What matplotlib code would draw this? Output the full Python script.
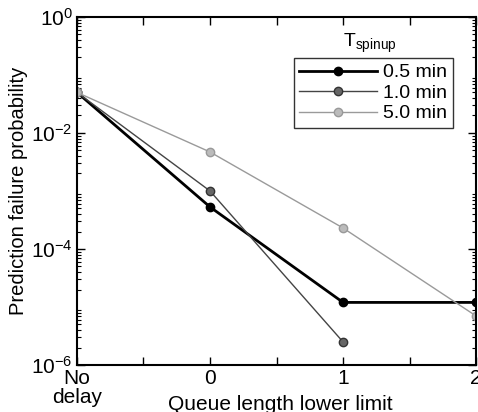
import numpy as np
import matplotlib.pyplot as plt
from matplotlib.ticker import LogLocator, NullFormatter

# x positions: -1 stands for "No delay"
x_pos = [-1, 0, 1, 2]
x_tick_pos = [-1, -0.5, 0, 0.5, 1, 1.5, 2]
x_tick_labels = ["No\ndelay", "", "0", "", "1", "", "2"]

labels = ["0.5 min", "1.0 min", "5.0 min"]
p_05 = [0.05, 5.3e-4, 1.2e-5, 1.2e-5]
p_10 = [0.05, 1.0e-3, 2.5e-6]
p_50 = [0.05, 4.7e-3, 2.3e-4, 7.0e-6]

plt.rcParams["font.family"] = ["Liberation Sans", "DejaVu Sans"]
plt.rcParams["mathtext.fontset"] = "custom"
plt.rcParams["mathtext.rm"] = "Liberation Sans"
plt.rcParams["mathtext.it"] = "Liberation Sans"

fig = plt.figure(figsize=(4.78, 4.12), dpi=100)
ax = fig.add_axes([0.161, 0.114, 0.835, 0.845])

ax.plot(x_pos, p_05, "-o", color="black", linewidth=2.0, markersize=6,
        markerfacecolor="black", markeredgecolor="black", label=labels[0])
ax.plot(x_pos[:len(p_10)], p_10, "-o", color="#444444", linewidth=1.0, markersize=6,
        markerfacecolor="#666666", markeredgecolor="#333333", label=labels[1])
ax.plot(x_pos, p_50, "-o", color="#9a9a9a", linewidth=1.0, markersize=6,
        markerfacecolor="#bbbbbb", markeredgecolor="#999999", label=labels[2])

ax.set_yscale("log")
ax.set_ylim(1e-6, 1)
ax.set_xlim(-1, 2)
ax.set_yticks([1e-6, 1e-4, 1e-2, 1])
ax.yaxis.set_minor_locator(LogLocator(base=10, subs=np.arange(2, 10), numticks=20))
ax.yaxis.set_minor_formatter(NullFormatter())
ax.set_xticks(x_tick_pos)
ax.set_xticklabels(x_tick_labels, linespacing=1.0)

ax.tick_params(which="both", direction="in", top=True, right=True, labelsize=15)
ax.tick_params(which="major", length=6, width=1, pad=3)
ax.tick_params(which="minor", length=3, width=0.8)
for s in ax.spines.values():
    s.set_linewidth(1.5)

ax.set_xlabel("Queue length lower limit", fontsize=15)
ax.xaxis.set_label_coords(0.51, -0.086)
ax.set_ylabel("Prediction failure probability", fontsize=14.5, labelpad=2)

leg = ax.legend(loc="upper right", bbox_to_anchor=(0.942, 0.882), borderaxespad=0,
                fontsize=14, frameon=True, fancybox=False, edgecolor="black",
                handlelength=4.0, borderpad=0.3, labelspacing=0.15, handletextpad=0.3)
leg.get_frame().set_linewidth(1.0)
ax.text(0.734, 0.925, r"T$_{\mathregular{spinup}}$", transform=ax.transAxes,
        fontsize=14, ha="center", va="center")

plt.savefig("out.png", dpi=100)
